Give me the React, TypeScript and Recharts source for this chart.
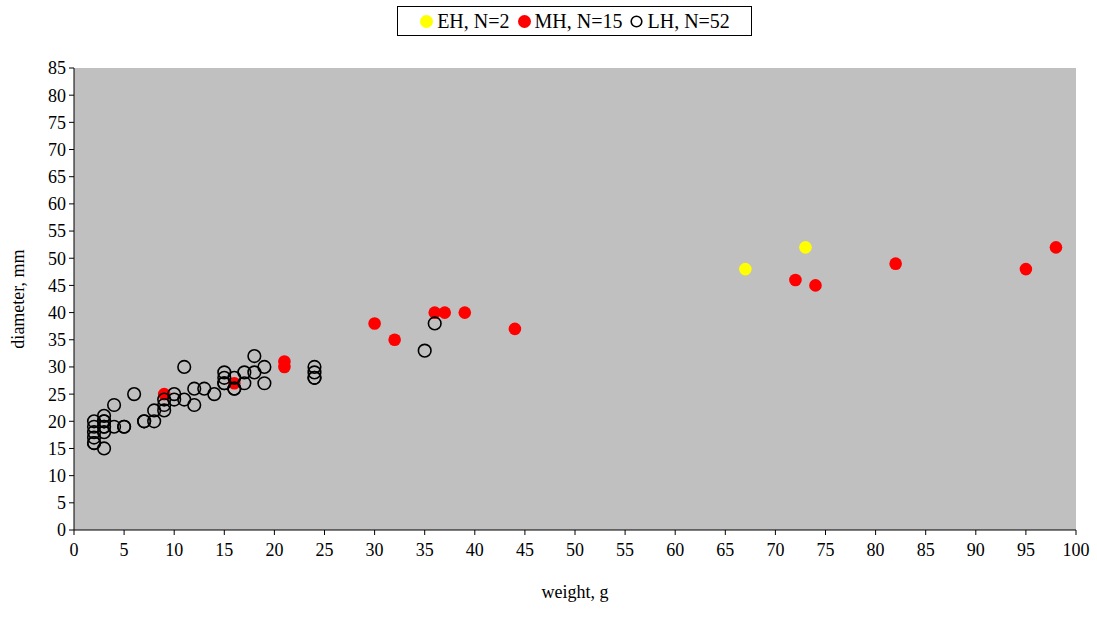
import { ScatterChart, Scatter, XAxis, YAxis, ReferenceArea } from 'recharts';

// EH (early), N=2
const ehWeight = [67, 73];
const ehDiameter = [48, 52];

// MH, N=15
const mhWeight = [9, 16, 21, 21, 30, 32, 36, 37, 39, 44, 72, 74, 82, 95, 98];
const mhDiameter = [25, 27, 31, 30, 38, 35, 40, 40, 40, 37, 46, 45, 49, 48, 52];

// LH, N=52 (several points overlap exactly)
const lhWeight = [
  2, 2, 2, 2, 2, 2, 3, 3, 3, 3, 3, 3, 4, 4, 5, 5, 6, 7, 7, 8, 8, 9, 9, 9, 10, 10,
  11, 11, 12, 12, 13, 14, 15, 15, 15, 15, 16, 16, 16, 17, 17, 18, 18, 19, 19, 24, 24, 24, 24, 35, 36, 3,
];
const lhDiameter = [
  20, 19, 18, 17, 16, 16, 21, 20, 19, 18, 15, 19, 19, 23, 19, 19, 25, 20, 20, 20, 22, 24, 23, 22, 25, 24,
  30, 24, 26, 23, 26, 25, 29, 28, 27, 27, 28, 26, 26, 29, 27, 32, 29, 30, 27, 30, 29, 28, 28, 33, 38, 20,
];

const xTicks = [0, 5, 10, 15, 20, 25, 30, 35, 40, 45, 50, 55, 60, 65, 70, 75, 80, 85, 90, 95, 100];
const yTicks = [0, 5, 10, 15, 20, 25, 30, 35, 40, 45, 50, 55, 60, 65, 70, 75, 80, 85];

const toPoints = (xs: number[], ys: number[]) => xs.map((x, i) => ({ x, y: ys[i] }));

const ehData = toPoints(ehWeight, ehDiameter);
const mhData = toPoints(mhWeight, mhDiameter);
const lhData = toPoints(lhWeight, lhDiameter);

const FONT = '"Liberation Serif", "DejaVu Serif", serif';

const Dot = ({ cx, cy, fill, stroke }: any) => (
  <circle cx={cx} cy={cy} r={6.3} fill={fill} stroke={stroke} strokeWidth={stroke === 'none' ? 0 : 1.6} />
);

const LegendBox = () => (
  <div
    style={{
      position: 'absolute',
      left: 397,
      top: 6,
      width: 355,
      height: 30,
      boxSizing: 'border-box',
      display: 'flex',
      alignItems: 'center',
      justifyContent: 'center',
      border: '1px solid #000',
      fontFamily: FONT,
      fontSize: 20,
      color: '#000',
      background: '#fff',
    }}
  >
    <svg width={15} height={15} style={{ marginRight: 3 }}>
      <circle cx={7.5} cy={7.5} r={6.5} fill="#FFFF00" />
    </svg>
    <span style={{ marginRight: 7 }}>EH, N=2</span>
    <svg width={15} height={15} style={{ marginRight: 3 }}>
      <circle cx={7.5} cy={7.5} r={6.5} fill="#FF0000" />
    </svg>
    <span style={{ marginRight: 7 }}>MH, N=15</span>
    <svg width={15} height={15} style={{ marginRight: 3 }}>
      <circle cx={7.5} cy={7.5} r={5.3} fill="none" stroke="#000" strokeWidth={1.6} />
    </svg>
    <span>LH, N=52</span>
  </div>
);

export default function App() {
  return (
    <div style={{ position: 'absolute', left: 0, top: 0, width: 1097, height: 617, background: '#fff' }}>
      <ScatterChart width={1097} height={617} margin={{ top: 68, right: 21, bottom: 57, left: 0 }}>
        <ReferenceArea x1={0} x2={100} y1={0} y2={85} fill="#C0C0C0" fillOpacity={1} stroke="none" ifOverflow="hidden" />
        <XAxis
          type="number"
          dataKey="x"
          domain={[0, 100]}
          ticks={xTicks}
          interval={0}
          tickSize={5}
          height={30}
          axisLine={{ stroke: '#000' }}
          tickLine={{ stroke: '#000' }}
          tick={{ fill: '#000', fontFamily: FONT, fontSize: 18 }}
          tickMargin={8}
          label={{ value: 'weight, g', position: 'insideBottom', offset: -38, fill: '#000', fontFamily: FONT, fontSize: 18 }}
        />
        <YAxis
          type="number"
          dataKey="y"
          domain={[0, 85]}
          ticks={yTicks}
          interval={0}
          tickSize={5}
          width={74}
          axisLine={{ stroke: '#000' }}
          tickLine={{ stroke: '#000' }}
          tick={{ fill: '#000', fontFamily: FONT, fontSize: 18 }}
          tickMargin={3}
          label={{
            value: 'diameter, mm',
            angle: -90,
            position: 'insideLeft',
            offset: 18,
            style: { textAnchor: 'middle' },
            fill: '#000',
            fontFamily: FONT,
            fontSize: 18,
          }}
        />
        <Scatter name="EH, N=2" data={ehData} fill="#FFFF00" shape={(p: any) => <Dot {...p} fill="#FFFF00" stroke="none" />} isAnimationActive={false} />
        <Scatter name="MH, N=15" data={mhData} fill="#FF0000" shape={(p: any) => <Dot {...p} fill="#FF0000" stroke="none" />} isAnimationActive={false} />
        <Scatter name="LH, N=52" data={lhData} fill="none" shape={(p: any) => <Dot {...p} fill="none" stroke="#000" />} isAnimationActive={false} />
      </ScatterChart>
      <LegendBox />
    </div>
  );
}
